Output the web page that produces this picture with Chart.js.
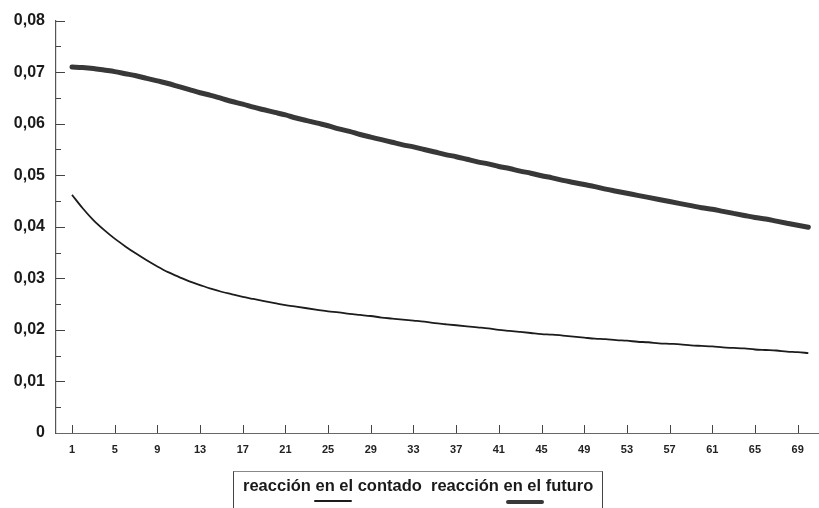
<!DOCTYPE html>
<html>
<head>
<meta charset="utf-8">
<script src="https://cdn.jsdelivr.net/npm/chart.js@4"></script>
<style>
  html, body { margin: 0; padding: 0; background: #fff; }
  #wrap { position: relative; width: 819px; height: 508px; overflow: hidden; }
  #legend {
    position: absolute; left: 233px; top: 471px; width: 370px; height: 50px;
    border: 1px solid #444; border-top-color: #888; box-sizing: border-box;
    font: bold 16.5px "Liberation Sans", Arial, sans-serif; color: #1a1a1a;
    padding: 4px 0 0 9px; white-space: nowrap;
  }
  .sample { position: absolute; }
</style>
</head>
<body>
<div id="wrap">
  <canvas id="myChart" width="819" height="508"></canvas>
  <div id="legend"></div>
</div>
<script>
const seriesNames = ["reacción en el contado", "reacción en el futuro"];

const periods = [];
for (let i = 1; i <= 70; i++) periods.push(i);

const xTickLabels = [1, 5, 9, 13, 17, 21, 25, 29, 33, 37, 41, 45, 49, 53, 57, 61, 65, 69];

const contado = [
  0.0462, 0.0436, 0.0413, 0.0394, 0.0377, 0.0362, 0.0348, 0.0335, 0.0323, 0.0312,
  0.0303, 0.0294, 0.0287, 0.0280, 0.0274, 0.0269, 0.0264, 0.0260, 0.0256, 0.0252,
  0.0248, 0.0245, 0.0242, 0.0239, 0.0236, 0.0234, 0.0231, 0.0229, 0.0227, 0.0224,
  0.0222, 0.0220, 0.0218, 0.0216, 0.0213, 0.0211, 0.0209, 0.0207, 0.0205, 0.0203,
  0.0200, 0.0198, 0.0196, 0.0194, 0.0192, 0.0191, 0.0189, 0.0187, 0.0185, 0.0183,
  0.0182, 0.0180, 0.0179, 0.0177, 0.0176, 0.0174, 0.0173, 0.0172, 0.0170, 0.0169,
  0.0168, 0.0166, 0.0165, 0.0164, 0.0162, 0.0161, 0.0160, 0.0158, 0.0157, 0.0155
];

const futuro = [
  0.0710, 0.0709, 0.0707, 0.0704, 0.0701, 0.0697, 0.0693, 0.0688, 0.0683, 0.0678,
  0.0672, 0.0666, 0.0660, 0.0655, 0.0649, 0.0643, 0.0638, 0.0632, 0.0627, 0.0622,
  0.0617, 0.0611, 0.0606, 0.0601, 0.0596, 0.0590, 0.0585, 0.0579, 0.0574, 0.0569,
  0.0564, 0.0559, 0.0555, 0.0550, 0.0545, 0.0540, 0.0536, 0.0531, 0.0526, 0.0522,
  0.0517, 0.0513, 0.0508, 0.0504, 0.0499, 0.0495, 0.0490, 0.0486, 0.0482, 0.0478,
  0.0473, 0.0469, 0.0465, 0.0461, 0.0457, 0.0453, 0.0449, 0.0445, 0.0441, 0.0437,
  0.0434, 0.0430, 0.0426, 0.0422, 0.0418, 0.0415, 0.0411, 0.0407, 0.0403, 0.0399
];

const FONT = "'Liberation Sans', Arial, sans-serif";

// short tick marks drawn inside the plot, like the original
const innerTicks = {
  id: "innerTicks",
  afterDatasetsDraw(chart) {
    const { ctx, scales: { x, y } } = chart;
    ctx.save();
    ctx.strokeStyle = "#444";
    ctx.lineWidth = 1;
    xTickLabels.forEach((v) => {
      const px = Math.round(x.getPixelForValue(v)) + 0.5;
      ctx.beginPath();
      ctx.moveTo(px, y.bottom);
      ctx.lineTo(px, y.bottom - 8);
      ctx.stroke();
    });
    for (let k = 1; k <= 16; k++) {
      const py = Math.round(y.getPixelForValue(k * 0.005)) + 0.5;
      const len = k % 2 === 0 ? 9 : 5;
      ctx.beginPath();
      ctx.moveTo(x.left, py);
      ctx.lineTo(x.left + len, py);
      ctx.stroke();
    }
    ctx.restore();
  },
};

const ctx = document.getElementById("myChart");

const myChart = new Chart(ctx, {
  type: "line",
  data: {
    datasets: [
      {
        label: seriesNames[0],
        data: periods.map((p, i) => ({ x: p, y: contado[i] })),
        borderColor: "#1c1c1c",
        borderWidth: 1.8,
        pointRadius: 0,
        cubicInterpolationMode: "monotone",
        fill: false,
      },
      {
        label: seriesNames[1],
        data: periods.map((p, i) => ({ x: p, y: futuro[i] })),
        borderColor: "#383838",
        borderWidth: 5,
        borderCapStyle: "round",
        pointRadius: 0,
        cubicInterpolationMode: "monotone",
        fill: false,
      },
    ],
  },
  options: {
    responsive: false,
    animation: false,
    layout: { padding: { top: 17, right: 0, bottom: 45, left: 0 } },
    plugins: { legend: { display: false }, tooltip: { enabled: false } },
    scales: {
      x: {
        type: "linear",
        min: -0.5,
        max: 71,
        grid: { display: false, drawTicks: false },
        border: { display: true, color: "#666", width: 1 },
        afterBuildTicks: (s) => { s.ticks = xTickLabels.map((v) => ({ value: v })); },
        afterFit: (s) => { s.height = 30; },
        ticks: {
          autoSkip: false,
          maxRotation: 0,
          padding: 10,
          color: "#222",
          font: { family: FONT, size: 11, weight: "bold" },
        },
      },
      y: {
        min: 0,
        max: 0.08,
        grid: { display: false, drawTicks: false },
        border: { display: true, color: "#555", width: 1.2 },
        afterFit: (s) => { s.width = 56; },
        ticks: {
          stepSize: 0.01,
          padding: 11,
          color: "#1a1a1a",
          font: { family: FONT, size: 16, weight: "bold" },
          callback: (v) => (v === 0 ? "0" : v.toFixed(2).replace(".", ",")),
        },
      },
    },
  },
  plugins: [innerTicks],
});

// legend: text with line samples under "en el", as in the original
const legend = document.getElementById("legend");
legend.innerHTML = seriesNames.map((n) => "<span>" + n + "</span>").join("&nbsp;&nbsp;");
const spans = legend.querySelectorAll("span");
myChart.data.datasets.forEach((ds, i) => {
  const words = ds.label.split(" ");
  const span = spans[i];
  const probe = document.createElement("span");
  span.textContent = "";
  span.appendChild(document.createTextNode(words[0] + " "));
  probe.textContent = words[1] + " " + words[2];
  span.appendChild(probe);
  span.appendChild(document.createTextNode(" " + words.slice(3).join(" ")));
  const lb = legend.getBoundingClientRect();
  const pb = probe.getBoundingClientRect();
  const line = document.createElement("div");
  line.className = "sample";
  line.style.left = (pb.left - lb.left + (i === 1 ? 2 : -2)) + "px";
  line.style.width = (pb.width) + "px";
  line.style.top = (pb.bottom - lb.top + 5) + "px";
  line.style.height = Math.max(1.5, ds.borderWidth - 1) + "px";
  line.style.borderRadius = "2px";
  line.style.background = ds.borderColor;
  legend.appendChild(line);
});
</script>
</body>
</html>
